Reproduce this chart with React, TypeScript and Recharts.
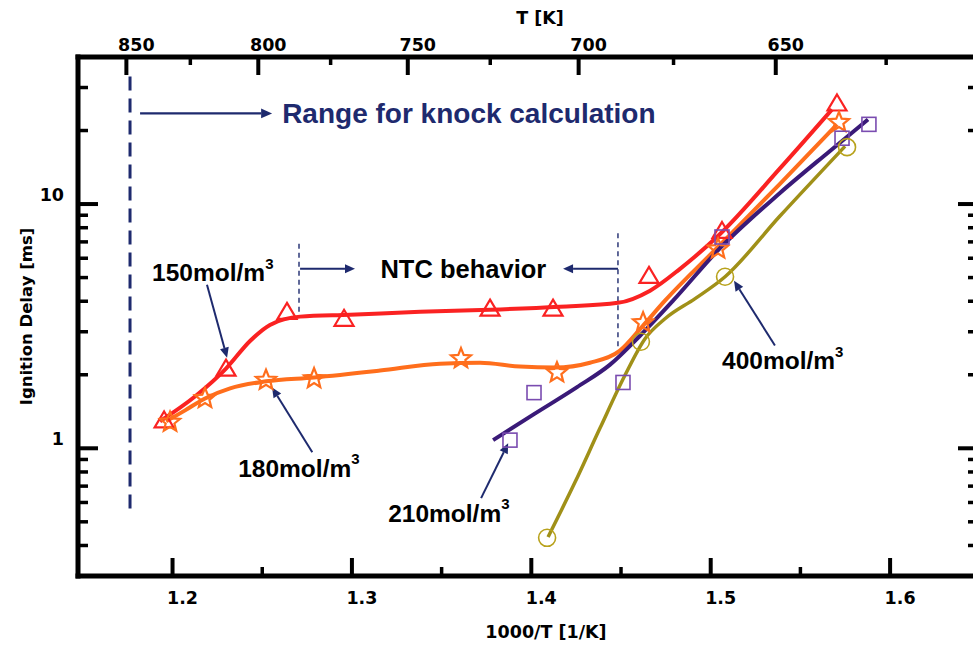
import React from 'react';
import {
  ComposedChart,
  Line,
  Scatter,
  XAxis,
  YAxis,
  ReferenceLine,
  ReferenceDot,
  Label,
} from 'recharts';

// Measured ignition delays [ms] against 1000/T [1/K], four densities
const pts150: [number, number][] = [
  [1.1953, 1.3], [1.2298, 2.12], [1.2638, 3.62], [1.2956, 3.39], [1.377, 3.73],
  [1.4121, 3.73], [1.4656, 5.08], [1.5063, 7.76], [1.5704, 25.8],
];
const pts180: [number, number][] = [
  [1.1986, 1.28], [1.2181, 1.6], [1.2521, 1.9], [1.2789, 1.93], [1.3608, 2.33],
  [1.4143, 2.04], [1.4623, 3.27], [1.5041, 6.55], [1.5715, 21.6],
];
const pts210: [number, number][] = [
  [1.3881, 1.08], [1.4015, 1.69], [1.4511, 1.86], [1.5063, 7.33], [1.5732, 18.6], [1.5882, 21.2],
];
const pts400: [number, number][] = [
  [1.4088, 0.43], [1.4611, 2.73], [1.508, 5.04], [1.576, 17.1],
];

// Smoothed fit curves
const fit150: [number, number][] = [
  [1.193, 1.29], [1.2125, 1.63], [1.2298, 2.12], [1.2432, 2.75], [1.2543, 3.2],
  [1.2711, 3.46], [1.2989, 3.52], [1.338, 3.62], [1.377, 3.69], [1.416, 3.8],
  [1.4483, 3.94], [1.4662, 4.42], [1.4829, 5.43], [1.5052, 7.54], [1.5386, 14.0], [1.5676, 24.4],
];
const fit180: [number, number][] = [
  [1.1964, 1.29], [1.207, 1.43], [1.2181, 1.6], [1.2321, 1.76], [1.2521, 1.88],
  [1.2789, 1.95], [1.3157, 2.08], [1.3491, 2.22], [1.3714, 2.24], [1.3937, 2.16],
  [1.4132, 2.14], [1.4327, 2.24], [1.4494, 2.51], [1.4623, 3.18], [1.4745, 4.02],
  [1.5035, 6.61], [1.5386, 12.1], [1.5704, 21.2],
];
const fit210: [number, number][] = [
  [1.3787, 1.08], [1.4015, 1.38], [1.4255, 1.78], [1.4439, 2.2], [1.4606, 2.89],
  [1.479, 4.02], [1.5052, 6.6], [1.5386, 11.1], [1.5665, 16.5], [1.5877, 22.2],
];
const fit400: [number, number][] = [
  [1.4093, 0.433], [1.4244, 0.727], [1.4383, 1.21], [1.4522, 1.99], [1.4634, 2.81],
  [1.4745, 3.39], [1.4913, 4.1], [1.508, 5.04], [1.5386, 8.93], [1.5749, 17.25],
];

// Axis ticks
const invTicks = [1.2, 1.25, 1.3, 1.35, 1.4, 1.45, 1.5, 1.55, 1.6];
const invMajor = [1.2, 1.3, 1.4, 1.5, 1.6];
const tempTicks = [850, 825, 800, 775, 750, 725, 700, 675, 650, 625];
const tempMajor = [850, 800, 750, 700, 650];
const delayTicks = [0.4, 0.5, 0.6, 0.7, 0.8, 0.9, 1, 2, 3, 4, 5, 6, 7, 8, 9, 10, 20, 30];
const delayMajor = [1, 10];

const X_DOMAIN: [number, number] = [1.1473, 1.649];
const X_TOP_DOMAIN: [number, number] = [1.1495, 1.6512];
const Y_DOMAIN: [number, number] = [0.3, 40];

const toXY = (arr: [number, number][]) => arr.map(([x, y]) => ({ x, y }));

const RED = '#fa2222';
const ORANGE = '#ff6e1c';
const PURPLE_LINE = '#3a1a78';
const PURPLE_MARK = '#7a4cb0';
const OLIVE_LINE = '#a09018';
const OLIVE_MARK = '#b8a21c';
const NAVY = '#1e2a6e';

const TICK_FONT = { fontFamily: 'DejaVu Sans', fontWeight: 700, fontSize: 17.5, fill: '#000' };
const NOTE_FONT = { fontFamily: 'Liberation Sans, Arial, sans-serif', fontWeight: 700 };

const nearly = (a: number, list: number[]) => list.some((m) => Math.abs(m - a) < 1e-6);

const BottomTick = (p: any) => {
  const v = p.payload.value;
  const major = nearly(v, invMajor);
  return (
    <g>
      <line x1={p.x} x2={p.x} y1={p.y} y2={p.y - (major ? 18 : 9)} stroke="#000" strokeWidth={major ? 4 : 3.5} />
      {major && (
        <text x={p.x + 10} y={p.y + 22} textAnchor="middle" dominantBaseline="central" {...TICK_FONT}>
          {v.toFixed(1)}
        </text>
      )}
    </g>
  );
};

const TopTick = (p: any) => {
  const t = Math.round(1000 / p.payload.value);
  const major = tempMajor.includes(t);
  return (
    <g>
      <line x1={p.x} x2={p.x} y1={p.y} y2={p.y + (major ? 18 : 8)} stroke="#000" strokeWidth={major ? 4 : 3.5} />
      {major && (
        <text x={p.x + 10} y={p.y - 12} textAnchor="middle" dominantBaseline="central" {...TICK_FONT}>
          {t}
        </text>
      )}
    </g>
  );
};

const LeftTick = (p: any) => {
  const v = p.payload.value;
  const major = nearly(v, delayMajor);
  return (
    <g>
      <line x1={p.x} x2={p.x + (major ? 20 : 10)} y1={p.y} y2={p.y} stroke="#000" strokeWidth={major ? 4 : 3.5} />
      {major && (
        <text x={p.x - 14} y={p.y - 9} textAnchor="end" dominantBaseline="central" {...TICK_FONT}>
          {v}
        </text>
      )}
    </g>
  );
};

const RightTick = (p: any) => {
  const v = p.payload.value;
  const major = nearly(v, delayMajor);
  return (
    <line x1={p.x} x2={p.x - (major ? 20 : 10)} y1={p.y} y2={p.y} stroke="#000" strokeWidth={major ? 4 : 3.5} />
  );
};

// Hollow markers
const Triangle = (p: any) => {
  const { cx, cy } = p;
  return (
    <polygon
      points={`${cx},${cy - 9} ${cx + 9.5},${cy + 7} ${cx - 9.5},${cy + 7}`}
      fill="none"
      stroke={RED}
      strokeWidth={2.2}
    />
  );
};

const Star = (p: any) => {
  const { cx, cy } = p;
  const pts: string[] = [];
  for (let i = 0; i < 10; i++) {
    const r = i % 2 === 0 ? 10.5 : 4.6;
    const a = -Math.PI / 2 + (i * Math.PI) / 5;
    pts.push(`${cx + r * Math.cos(a)},${cy + r * Math.sin(a)}`);
  }
  return <polygon points={pts.join(' ')} fill="none" stroke={ORANGE} strokeWidth={2.2} strokeLinejoin="miter" />;
};

const Square = (p: any) => (
  <rect x={p.cx - 7} y={p.cy - 7} width={14} height={14} fill="none" stroke={PURPLE_MARK} strokeWidth={1.6} />
);

const Circle = (p: any) => (
  <circle cx={p.cx} cy={p.cy} r={8.5} fill="none" stroke={OLIVE_MARK} strokeWidth={1.6} />
);

// Arrow drawn along a reference segment, head at the second point
const arrow = (color: string, width: number, head: number) => (p: any) => {
  const { x1, y1, x2, y2 } = p;
  const ang = Math.atan2(y2 - y1, x2 - x1);
  const bx = x2 - head * Math.cos(ang);
  const by = y2 - head * Math.sin(ang);
  const hw = head * 0.45;
  const px = -Math.sin(ang) * hw;
  const py = Math.cos(ang) * hw;
  return (
    <g>
      <line x1={x1} y1={y1} x2={bx} y2={by} stroke={color} strokeWidth={width} />
      <polygon points={`${x2},${y2} ${bx + px},${by + py} ${bx - px},${by - py}`} fill={color} />
    </g>
  );
};

const noteText = (content: React.ReactNode, size: number, color: string, anchor: 'start' | 'middle' = 'start') =>
  (p: any) => (
    <text x={p.cx} y={p.cy} textAnchor={anchor} dominantBaseline="central" fill={color} fontSize={size} {...NOTE_FONT}>
      {content}
    </text>
  );

const molLabel = (n: string) => (
  <>
    {n}mol/m
    <tspan dy={-10} fontSize={15}>3</tspan>
  </>
);

const AX = { xAxisId: 'bottom', yAxisId: 'left' };

export default function App() {
  return (
    <div style={{ position: 'fixed', left: 0, top: 0, width: 973, height: 646, overflow: 'hidden', background: '#fff' }}>
      <ComposedChart width={1000} height={646} margin={{ top: 0, right: 0, bottom: 0, left: 0 }}>
        <XAxis
          xAxisId="bottom"
          dataKey="x"
          type="number"
          domain={X_DOMAIN}
          allowDataOverflow
          ticks={invTicks}
          interval={0}
          height={70}
          tickLine={false}
          tickSize={0}
          tickMargin={0}
          tick={<BottomTick />}
          axisLine={{ stroke: '#000', strokeWidth: 5, strokeLinecap: 'square' }}
        >
          <Label
            content={(lp: any) => (
              <text
                x={lp.viewBox.x + lp.viewBox.width / 2 + 18}
                y={lp.viewBox.y + 56}
                textAnchor="middle"
                dominantBaseline="central"
                {...TICK_FONT}
              >
                1000/T [1/K]
              </text>
            )}
          />
        </XAxis>
        <XAxis
          xAxisId="top"
          orientation="top"
          dataKey="x"
          type="number"
          domain={X_TOP_DOMAIN}
          allowDataOverflow
          ticks={tempTicks.map((t) => 1000 / t)}
          interval={0}
          height={57}
          tickLine={false}
          tickSize={0}
          tickMargin={0}
          tick={<TopTick />}
          axisLine={{ stroke: '#000', strokeWidth: 5, strokeLinecap: 'square' }}
        >
          <Label
            content={(lp: any) => (
              <text
                x={lp.viewBox.x + lp.viewBox.width / 2 + 12}
                y={lp.viewBox.y + 18}
                textAnchor="middle"
                dominantBaseline="central"
                {...TICK_FONT}
              >
                T [K]
              </text>
            )}
          />
        </XAxis>
        <YAxis
          yAxisId="left"
          dataKey="y"
          type="number"
          scale="log"
          domain={Y_DOMAIN}
          allowDataOverflow
          ticks={delayTicks}
          interval={0}
          width={78}
          tickLine={false}
          tickSize={0}
          tickMargin={0}
          tick={<LeftTick />}
          axisLine={{ stroke: '#000', strokeWidth: 5, strokeLinecap: 'square' }}
        >
          <Label
            content={(lp: any) => {
              const cx = 26;
              const cy = lp.viewBox.y + lp.viewBox.height / 2;
              return (
                <text
                  x={cx}
                  y={cy}
                  transform={`rotate(-90 ${cx} ${cy})`}
                  textAnchor="middle"
                  dominantBaseline="central"
                  {...TICK_FONT}
                  fontSize={16.5}
                >
                  Ignition Delay [ms]
                </text>
              );
            }}
          />
        </YAxis>
        <YAxis
          yAxisId="right"
          orientation="right"
          type="number"
          scale="log"
          domain={Y_DOMAIN}
          allowDataOverflow
          ticks={delayTicks}
          interval={0}
          width={22}
          tickLine={false}
          tickSize={0}
          tickMargin={0}
          tick={<RightTick />}
          axisLine={{ stroke: '#000', strokeWidth: 5, strokeLinecap: 'square' }}
        />

        {/* Knock calculation range */}
        <ReferenceLine
          {...AX}
          segment={[{ x: 1.1763, y: 33.3 }, { x: 1.1763, y: 0.533 }]}
          stroke={NAVY}
          strokeWidth={3}
          strokeDasharray="14 8"
        />
        <ReferenceLine
          {...AX}
          segment={[{ x: 1.1819, y: 23.5 }, { x: 1.2555, y: 23.5 }]}
          shape={arrow(NAVY, 2.2, 11)}
        />
        <ReferenceDot {...AX} x={1.2611} y={23.5} shape={noteText('Range for knock calculation', 28, NAVY)} />

        {/* NTC region */}
        <ReferenceLine
          {...AX}
          segment={[{ x: 1.2705, y: 6.87 }, { x: 1.2705, y: 3.46 }]}
          stroke={NAVY}
          strokeWidth={1.4}
          strokeDasharray="5 4"
        />
        <ReferenceLine
          {...AX}
          segment={[{ x: 1.4483, y: 7.6 }, { x: 1.4483, y: 2.6 }]}
          stroke={NAVY}
          strokeWidth={1.4}
          strokeDasharray="5 4"
        />
        <ReferenceLine
          {...AX}
          segment={[{ x: 1.2711, y: 5.43 }, { x: 1.3017, y: 5.43 }]}
          shape={arrow(NAVY, 2, 10)}
        />
        <ReferenceLine
          {...AX}
          segment={[{ x: 1.4483, y: 5.43 }, { x: 1.4177, y: 5.43 }]}
          shape={arrow(NAVY, 2, 10)}
        />
        <ReferenceDot {...AX} x={1.3621} y={5.43} shape={noteText('NTC behavior', 25.5, '#000', 'middle')} />

        {/* Fit curves */}
        <Line {...AX} data={toXY(fit150)} dataKey="y" type="monotone" stroke={RED} strokeWidth={4} dot={false} isAnimationActive={false} />
        <Line {...AX} data={toXY(fit180)} dataKey="y" type="monotone" stroke={ORANGE} strokeWidth={4} dot={false} isAnimationActive={false} />
        <Line {...AX} data={toXY(fit210)} dataKey="y" type="monotone" stroke={PURPLE_LINE} strokeWidth={4} dot={false} isAnimationActive={false} />
        <Line {...AX} data={toXY(fit400)} dataKey="y" type="monotone" stroke={OLIVE_LINE} strokeWidth={3.5} dot={false} isAnimationActive={false} />

        {/* Measurements */}
        <Scatter {...AX} data={toXY(pts150)} dataKey="y" shape={<Triangle />} isAnimationActive={false} />
        <Scatter {...AX} data={toXY(pts180)} dataKey="y" shape={<Star />} isAnimationActive={false} />
        <Scatter {...AX} data={toXY(pts210)} dataKey="y" shape={<Square />} isAnimationActive={false} />
        <Scatter {...AX} data={toXY(pts400)} dataKey="y" shape={<Circle />} isAnimationActive={false} />

        {/* Density labels */}
        <ReferenceDot {...AX} x={1.1886} y={5.23} shape={noteText(molLabel('150'), 24.5, '#000')} />
        <ReferenceLine
          {...AX}
          segment={[{ x: 1.2192, y: 4.67 }, { x: 1.2304, y: 2.35 }]}
          shape={arrow(NAVY, 2, 10)}
        />
        <ReferenceDot {...AX} x={1.2366} y={0.829} shape={noteText(molLabel('180'), 24.5, '#000')} />
        <ReferenceLine
          {...AX}
          segment={[{ x: 1.2779, y: 0.963 }, { x: 1.2555, y: 1.774 }]}
          shape={arrow(NAVY, 2, 10)}
        />
        <ReferenceDot {...AX} x={1.3202} y={0.543} shape={noteText(molLabel('210'), 24.5, '#000')} />
        <ReferenceLine
          {...AX}
          segment={[{ x: 1.372, y: 0.625 }, { x: 1.3871, y: 1.048 }]}
          shape={arrow(NAVY, 2, 10)}
        />
        <ReferenceDot {...AX} x={1.5063} y={2.287} shape={noteText(molLabel('400'), 24.5, '#000')} />
        <ReferenceLine
          {...AX}
          segment={[{ x: 1.5358, y: 2.635 }, { x: 1.513, y: 4.85 }]}
          shape={arrow(NAVY, 2, 10)}
        />
      </ComposedChart>
    </div>
  );
}
